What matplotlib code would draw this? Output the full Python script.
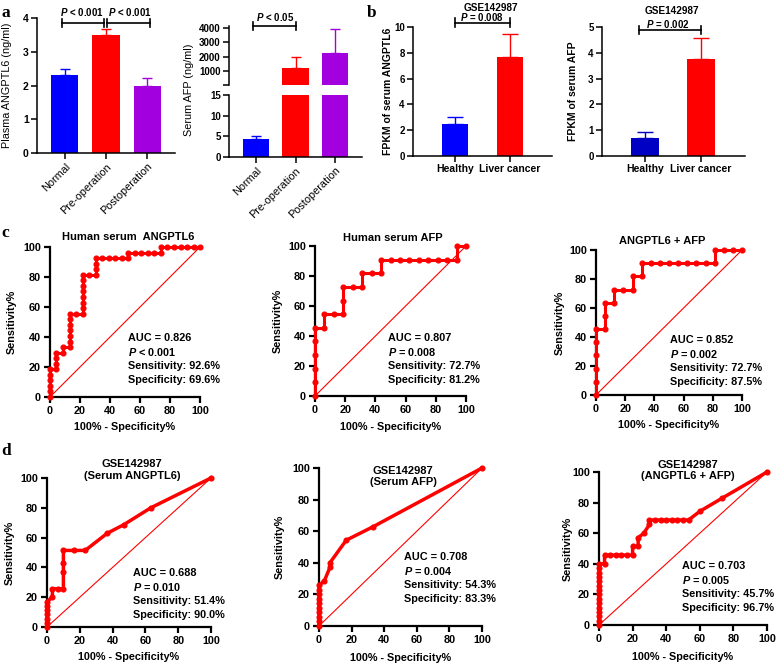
import numpy as np
import matplotlib
matplotlib.use("Agg")
import matplotlib.pyplot as plt

plt.rcParams['font.family'] = ['Liberation Sans', 'DejaVu Sans']
plt.rcParams['mathtext.fontset'] = 'custom'
plt.rcParams['mathtext.it'] = 'Liberation Sans:italic:bold'
plt.rcParams['mathtext.rm'] = 'Liberation Sans:bold'

BLUE = '#0000FF'
RED = '#FF0000'
PURPLE = '#A300E0'
NAVY = '#0000C4'

# ---- panel a: surgery groups
surgery_groups = ["Normal", "Pre-operation", "Postoperation"]
angptl6_plasma = [2.3, 3.5, 2.0]
angptl6_plasma_err = [0.2, 0.17, 0.23]
afp_serum = [4.4, 1200, 2240]
afp_serum_err = [0.8, 800, 1690]

# ---- panel b: GSE142987
gse_groups = ["Healthy", "Liver cancer"]
fpkm_angptl6 = [2.46, 7.7]
fpkm_angptl6_err = [0.6, 1.73]
fpkm_afp = [0.69, 3.75]
fpkm_afp_err = [0.23, 0.84]

# ---- panel c: ROC, human serum (100% - specificity, sensitivity)
c1_fpr = [0, 0, 0, 0, 0, 0,
          4.3, 4.3, 4.3, 4.3,
          8.7, 8.7,
          13.0, 13.0, 13.0, 13.0, 13.0, 13.0, 13.0,
          17.4,
          21.7, 21.7, 21.7, 21.7, 21.7, 21.7, 21.7, 21.7,
          26.1,
          30.4, 30.4, 30.4, 30.4,
          34.8, 39.1, 43.5, 47.8, 52.2, 52.2,
          56.5, 60.9, 65.2, 69.6, 73.9, 73.9,
          78.3, 82.6, 87.0, 91.3, 95.7, 100]
c1_sens = [0, 3.7, 7.4, 11.1, 14.8, 18.5,
           18.5, 22.2, 25.9, 29.6,
           29.6, 33.3,
           33.3, 37.0, 40.7, 44.4, 48.1, 51.9, 55.6,
           55.6,
           55.6, 59.3, 63.0, 66.7, 70.4, 74.1, 77.8, 81.5,
           81.5,
           81.5, 85.2, 88.9, 92.6,
           92.6, 92.6, 92.6, 92.6, 92.6, 96.3,
           96.3, 96.3, 96.3, 96.3, 96.3, 100,
           100, 100, 100, 100, 100, 100]

c2_fpr = [0, 0, 0, 0, 0, 0, 6.25, 6.25, 12.5, 18.75, 18.75, 18.75, 25.0,
          31.25, 31.25, 37.5, 43.75, 43.75, 50.0, 56.25, 62.5, 68.75, 75.0,
          81.25, 87.5, 93.75, 93.75, 100]
c2_sens = [0, 9.1, 18.2, 27.3, 36.4, 45.5, 45.5, 54.5, 54.5, 54.5, 63.6, 72.7, 72.7,
           72.7, 81.8, 81.8, 81.8, 90.9, 90.9, 90.9, 90.9, 90.9, 90.9,
           90.9, 90.9, 90.9, 100, 100]

c3_fpr = [0, 0, 0, 0, 0, 0, 6.25, 6.25, 6.25, 12.5, 12.5, 18.75, 25.0, 25.0,
          31.25, 31.25, 37.5, 43.75, 50.0, 56.25, 62.5, 68.75, 75.0, 81.25,
          81.25, 87.5, 93.75, 100]
c3_sens = [0, 9.1, 18.2, 27.3, 36.4, 45.5, 45.5, 54.5, 63.6, 63.6, 72.7, 72.7, 72.7, 81.8,
           81.8, 90.9, 90.9, 90.9, 90.9, 90.9, 90.9, 90.9, 90.9, 90.9,
           100, 100, 100, 100]

# ---- panel d: ROC, GSE142987
d1_fpr = [0, 0, 0, 0, 0, 0, 0, 3.3, 3.3, 6.7, 10.0, 10.0, 10.0, 10.0,
          16.7, 23.3, 36.7, 46.7, 63.3, 100]
d1_sens = [0, 2.9, 5.7, 8.6, 11.4, 14.3, 17.1, 20.0, 25.7, 25.7, 25.7, 37.1, 42.9, 51.4,
           51.4, 51.4, 62.9, 68.6, 80.0, 100]

d2_fpr = [0, 0, 0, 0, 0, 0, 0, 0, 0, 0, 3.3, 6.7, 6.7, 16.7, 33.3, 100]
d2_sens = [0, 2.9, 5.7, 8.6, 11.4, 14.3, 17.1, 20.0, 22.9, 25.7, 28.6, 37.1, 40.0,
           54.3, 62.9, 100]

d3_fpr = [0, 0, 0, 0, 0, 0, 0, 0, 0, 0, 0, 0, 0, 0, 0,
          3.3, 3.3, 6.7, 10.0, 13.3, 16.7, 20.0, 20.0, 23.3, 23.3, 26.7, 30.0,
          30.0, 33.3, 36.7, 40.0, 43.3, 46.7, 50.0, 53.3, 60.0, 73.3, 100]
d3_sens = [0, 2.9, 5.7, 8.6, 11.4, 14.3, 17.1, 20.0, 22.9, 25.7, 28.6, 31.4, 34.3, 37.1, 40.0,
           40.0, 45.7, 45.7, 45.7, 45.7, 45.7, 45.7, 51.4, 51.4, 57.1, 60.0, 65.7,
           68.6, 68.6, 68.6, 68.6, 68.6, 68.6, 68.6, 68.6, 74.3, 82.9, 100]

roc_titles = ["Human serum  ANGPTL6", "Human serum AFP", "ANGPTL6 + AFP",
              "GSE142987\n(Serum ANGPTL6)", "GSE142987\n(Serum AFP)", "GSE142987\n(ANGPTL6 + AFP)"]
roc_stats = [
    ["AUC = 0.826", "$P$ < 0.001", "Sensitivity: 92.6%", "Specificity: 69.6%"],
    ["AUC = 0.807", "$P$ = 0.008", "Sensitivity: 72.7%", "Specificity: 81.2%"],
    ["AUC = 0.852", "$P$ = 0.002", "Sensitivity: 72.7%", "Specificity: 87.5%"],
    ["AUC = 0.688", "$P$ = 0.010", "Sensitivity: 51.4%", "Specificity: 90.0%"],
    ["AUC = 0.708", "$P$ = 0.004", "Sensitivity: 54.3%", "Specificity: 83.3%"],
    ["AUC = 0.703", "$P$ = 0.005", "Sensitivity: 45.7%", "Specificity: 96.7%"],
]

W, H = 784, 668
fig = plt.figure(figsize=(W / 100, H / 100), dpi=100)


def add_ax(x0, y0, x1, y1):
    # pixel box (left, top, right, bottom) -> figure fraction
    return fig.add_axes([x0 / W, 1 - y1 / H, (x1 - x0) / W, (y1 - y0) / H])


def clean(ax, lw):
    ax.spines['top'].set_visible(False)
    ax.spines['right'].set_visible(False)
    ax.spines['left'].set_linewidth(lw)
    ax.spines['bottom'].set_linewidth(lw)
    ax.tick_params(width=lw, length=4, pad=2)


def bars(ax, vals, errs, colors, width, capsize, err_lo=None, err_hi=None):
    # err_lo / err_hi: only draw error bars whose top falls inside this axis segment
    x = np.arange(len(vals))
    ax.bar(x, vals, width=width, color=colors, zorder=2)
    for xi, v, e, c in zip(x, vals, errs, colors):
        if err_lo is not None and v + e < err_lo:
            continue
        if err_hi is not None and v + e > err_hi:
            continue
        ax.errorbar(xi, v, yerr=[[0], [e]], fmt='none', ecolor=c, elinewidth=1,
                    capsize=capsize, capthick=1, zorder=1)


def bracket(ax, x0, x1, y, h, label, tx, ty, size=7):
    kw = dict(color='black', lw=1.2, clip_on=False)
    ax.plot([x0, x1], [y, y], **kw)
    ax.plot([x0, x0], [y - h, y + h], **kw)
    ax.plot([x1, x1], [y - h, y + h], **kw)
    ax.text(tx, ty, label, ha='center', va='baseline', fontsize=size, fontweight='bold')


# ---------------- a (left): plasma ANGPTL6
ax = add_ax(37, 18, 175, 153)
clean(ax, 1.1)
bars(ax, angptl6_plasma, angptl6_plasma_err, [BLUE, RED, PURPLE], 0.66, 3.5)
ax.set_xlim(-0.68, 2.68)
ax.set_ylim(0, 4)
ax.set_yticks([0, 1, 2, 3, 4])
ax.set_xticks(range(3))
ax.set_xticklabels(surgery_groups, rotation=45, ha='right', rotation_mode='anchor', fontsize=7.8)
for t in ax.get_yticklabels():
    t.set_fontsize(7.5)
    t.set_fontweight('bold')
ax.set_ylabel("Plasma ANGPTL6 (ng/ml)", fontsize=7.8)
ax.yaxis.set_label_coords(-0.18, 0.5)
bracket(ax, -0.08, 0.95, 3.86, 0.12, "$P$ < 0.001", 0.41, 4.05)
bracket(ax, 1.03, 2.08, 3.86, 0.12, "$P$ < 0.001", 1.58, 4.05)

# ---------------- a (right): serum AFP, broken axis
colors_a = [BLUE, RED, PURPLE]
ax_u = add_ax(229, 26, 362, 85)
clean(ax_u, 1.1)
ax_u.spines['bottom'].set_visible(False)
bars(ax_u, afp_serum, afp_serum_err, colors_a, 0.66, 3.5, err_lo=15)
ax_u.set_xlim(-0.68, 2.68)
ax_u.set_ylim(0, 4150)
ax_u.set_xticks([])
ax_u.set_yticks([0, 1000, 2000, 3000, 4000])
ax_u.set_yticklabels(['', '1000', '2000', '3000', '4000'], fontsize=7, fontweight='bold')
bracket(ax_u, -0.08, 1.0, 4175, 280, "$P$ < 0.05", 0.48, 4470)

ax_l = add_ax(229, 95, 362, 157)
clean(ax_l, 1.1)
bars(ax_l, afp_serum, afp_serum_err, colors_a, 0.66, 3.5, err_hi=15)
ax_l.set_xlim(-0.68, 2.68)
ax_l.set_ylim(0, 15)
ax_l.set_yticks([0, 5, 10, 15])
for t in ax_l.get_yticklabels():
    t.set_fontsize(7)
    t.set_fontweight('bold')
ax_l.set_xticks(range(3))
ax_l.set_xticklabels(surgery_groups, rotation=45, ha='right', rotation_mode='anchor', fontsize=7.8)
fig.text(189 / W, 1 - 90 / H, "Serum AFP (ng/ml)", rotation=90, ha='center', va='center', fontsize=7.8)

# ---------------- b: GSE142987 FPKM
b_panels = [
    ((413, 27, 552, 156), fpkm_angptl6, fpkm_angptl6_err, [BLUE, RED], 10, [0, 2, 4, 6, 8, 10],
     "FPKM of serum ANGPTL6", -0.144, (-0.764, 1.764), 0.49,
     (0.0, 1.0, 10.33, 0.33, "$P$ = 0.008", 0.49, 10.45), (0.66, 11.5)),
    ((602, 27, 745, 156), fpkm_afp, fpkm_afp_err, [NAVY, RED], 5, [0, 1, 2, 3, 4, 5],
     "FPKM of serum AFP", -0.168, (-0.768, 1.786), 0.5,
     (-0.1, 1.0, 4.88, 0.16, "$P$ = 0.002", 0.41, 4.98), (0.49, 5.62)),
]
for rect, vals, errs, cols, top, ticks, ylab, ylx, xl, bw, br, tt in b_panels:
    ax = add_ax(*rect)
    clean(ax, 1.1)
    bars(ax, vals, errs, cols, bw, 5.5)
    ax.set_xlim(*xl)
    ax.set_ylim(0, top)
    ax.set_yticks(ticks)
    ax.set_xticks(range(2))
    ax.set_xticklabels(gse_groups, fontsize=7.5, fontweight='bold')
    for t in ax.get_yticklabels():
        t.set_fontsize(7)
        t.set_fontweight('bold')
    ax.set_ylabel(ylab, fontsize=7.5, fontweight='bold')
    ax.yaxis.set_label_coords(ylx, 0.5)
    bracket(ax, br[0], br[1], br[2], br[3], br[4], br[5], br[6], size=7)
    ax.text(tt[0], tt[1], "GSE142987", ha='center', va='center', fontsize=7.2, fontweight='bold')

# ---------------- c, d: ROC curves
roc_data = [(c1_fpr, c1_sens), (c2_fpr, c2_sens), (c3_fpr, c3_sens),
            (d1_fpr, d1_sens), (d2_fpr, d2_sens), (d3_fpr, d3_sens)]
roc_layout = [
    dict(rect=(50, 247, 200, 397), tpos=(0.52, 1.067), spos=(0.522, 0.393), ylx=-0.22, xly=-0.167, lw=2.2),
    dict(rect=(315, 246, 466, 396), tpos=(0.517, 1.053), spos=(0.485, 0.389), ylx=-0.212, xly=-0.172, lw=2.2),
    dict(rect=(596, 250, 742, 395), tpos=(0.452, 1.062), spos=(0.507, 0.379), ylx=-0.212, xly=-0.169, lw=2.2),
    dict(rect=(47, 478, 211, 627), tpos=(0.52, 1.054), spos=(0.526, 0.364), ylx=-0.195, xly=-0.168, lw=2.5),
    dict(rect=(319, 468, 482, 626), tpos=(0.515, 0.946), spos=(0.523, 0.439), ylx=-0.209, xly=-0.171, lw=2.5),
    dict(rect=(599, 472, 767, 625), tpos=(0.53, 1.01), spos=(0.492, 0.388), ylx=-0.155, xly=-0.176, lw=2.5),
]
for (fpr, sens), lay, title, stats in zip(roc_data, roc_layout, roc_titles, roc_stats):
    ax = add_ax(*lay['rect'])
    clean(ax, 1.6)
    ax.tick_params(length=4, width=1.6, pad=2.5)
    ax.plot([0, 100], [0, 100], color=RED, lw=0.8, zorder=2)
    ax.plot(fpr, sens, color=RED, lw=lay['lw'], marker='o', ms=3.4, clip_on=False, zorder=3)
    ax.set_xlim(0, 100)
    ax.set_ylim(0, 100)
    ax.set_xticks(range(0, 101, 20))
    ax.set_yticks(range(0, 101, 20))
    for t in ax.get_xticklabels() + ax.get_yticklabels():
        t.set_fontsize(7.8)
        t.set_fontweight('bold')
    ax.set_ylabel("Sensitivity%", fontsize=7.8, fontweight='bold')
    ax.yaxis.set_label_coords(lay['ylx'], 0.5)
    ax.set_xlabel("100% - Specificity%", fontsize=7.8, fontweight='bold')
    ax.xaxis.set_label_coords(0.5, lay['xly'])
    ax.text(lay['tpos'][0], lay['tpos'][1], title, transform=ax.transAxes, ha='center', va='center',
            fontsize=8, fontweight='bold', linespacing=1.15)
    hpx = lay['rect'][3] - lay['rect'][1]
    for i, s in enumerate(stats):
        ax.text(lay['spos'][0], lay['spos'][1] - i * 14 / hpx, s, transform=ax.transAxes,
                ha='left', va='center', fontsize=7.8, fontweight='bold')

# panel letters
for letter, (px, py) in zip("abcd", [(1, 17), (367, 17), (1, 237), (1, 455)]):
    fig.text(px / W, 1 - py / H, letter, fontsize=12.5, fontweight='bold',
             family='Liberation Serif', va='baseline', ha='left')

fig.savefig("out.png", dpi=100)
